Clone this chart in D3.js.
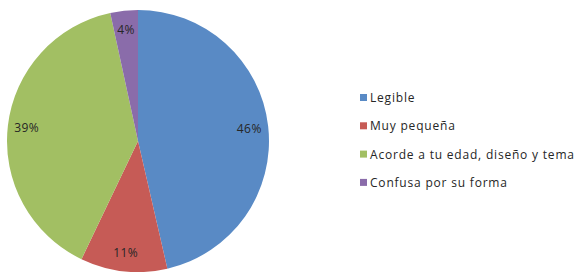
<!DOCTYPE html>
<html>
<head>
<meta charset="utf-8">
<script src="https://cdn.jsdelivr.net/npm/d3@7"></script>
<style>
  body { margin: 0; background: #fff; }
  text { font-family: 'Open Sans', sans-serif; fill: #262626; }
</style>
</head>
<body>
<div id="chart-container"></div>
<script>
const categories = ['Legible', 'Muy pequeña', 'Acorde a tu edad, diseño y tema', 'Confusa por su forma'];
const values = [46.4, 10.7, 39.5, 3.4];
const labels = ['46%', '11%', '39%', '4%'];

const colors = ['#598AC5', '#C65B56', '#A2BF63', '#8A6CAA'];

const width = 575;
const height = 272;
const cx = 138, cy = 141, radius = 131;

const svg = d3.select('#chart-container')
  .append('svg')
  .attr('width', width)
  .attr('height', height);

const data = categories.map((c, i) => ({ name: c, value: values[i], label: labels[i], color: colors[i] }));

const pie = d3.pie()
  .sort(null)
  .value(d => d.value);

const arc = d3.arc().innerRadius(0).outerRadius(radius);
const labelArc = d3.arc().innerRadius(112).outerRadius(112);

const g = svg.append('g')
  .attr('transform', `translate(${cx},${cy})`);

g.selectAll('path')
  .data(pie(data))
  .enter()
  .append('path')
  .attr('d', arc)
  .style('fill', d => d.data.color);

g.selectAll('.lbl')
  .data(pie(data))
  .enter()
  .append('text')
  .attr('class', 'lbl')
  .attr('transform', d => `translate(${labelArc.centroid(d)})`)
  .attr('text-anchor', 'middle')
  .attr('dy', '0.35em')
  .style('font-size', '12px')
  .style('letter-spacing', '0.4px')
  .text(d => d.data.label);

// legend
const legend = svg.append('g')
  .attr('transform', 'translate(360,94)');

const rowH = 28.3;

const item = legend.selectAll('.item')
  .data(data)
  .enter()
  .append('g')
  .attr('class', 'item')
  .attr('transform', (d, i) => `translate(0,${i * rowH})`);

item.append('rect')
  .attr('width', 7)
  .attr('height', 7)
  .style('fill', d => d.color);

item.append('text')
  .attr('x', 10)
  .attr('y', 8)
  .style('font-size', '12px')
  .style('letter-spacing', '0.8px')
  .text(d => d.name);
</script>
</body>
</html>
